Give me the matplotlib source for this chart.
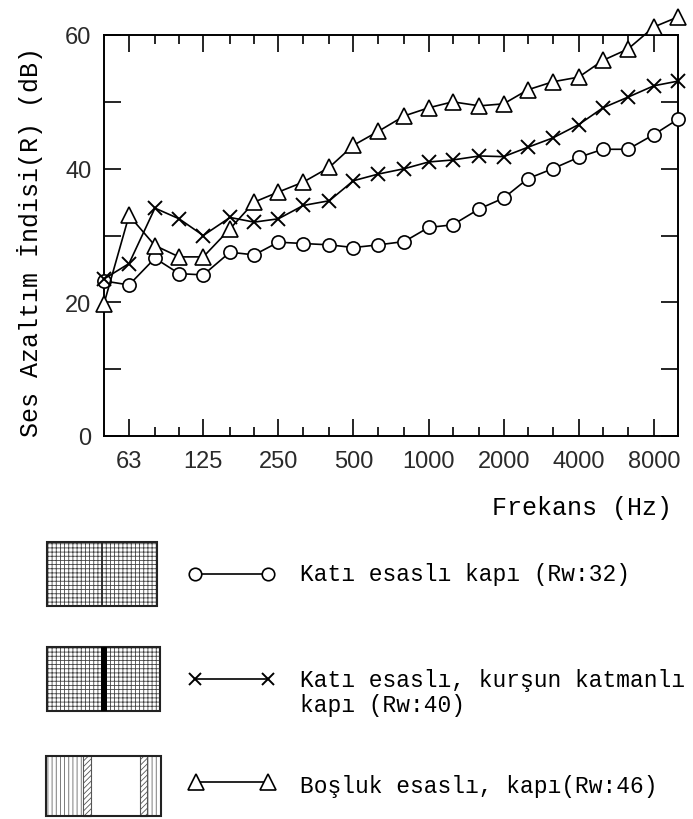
import matplotlib
matplotlib.use('Agg')
import matplotlib.pyplot as plt
from matplotlib.patches import Rectangle
from matplotlib.ticker import FixedLocator, NullFormatter

# 1/3 oktav bant merkez frekanslari (Hz)
freqs = [50, 63, 80, 100, 125, 160, 200, 250, 315, 400, 500, 630, 800,
         1000, 1250, 1600, 2000, 2500, 3150, 4000, 5000, 6300, 8000, 10000]
octave_ticks = [63, 125, 250, 500, 1000, 2000, 4000, 8000]
third_ticks = [f for f in freqs if f not in octave_ticks and f not in (50, 10000)]

# R (dB) degerleri
kati = [23.2, 22.6, 26.6, 24.3, 24.1, 27.5, 27.1, 29.0, 28.8, 28.6, 28.2, 28.6,
        29.1, 31.2, 31.6, 34.0, 35.6, 38.5, 40.0, 41.7, 42.9, 42.9, 45.1, 47.4]
kursun = [23.5, 25.8, 34.1, 32.5, 30.0, 32.7, 32.0, 32.5, 34.5, 35.2, 38.2, 39.2,
          40.0, 41.0, 41.3, 41.9, 41.8, 43.2, 44.6, 46.6, 49.1, 50.7, 52.4, 53.1]
bosluk = [19.8, 33.0, 28.5, 26.8, 26.8, 31.0, 35.0, 36.5, 38.0, 40.2, 43.5, 45.6,
          47.9, 49.1, 50.0, 49.4, 49.7, 51.8, 53.0, 53.7, 56.2, 57.9, 61.2, 62.7]

labels = ['Katı esaslı kapı (Rw:32)',
          'Katı esaslı, kurşun katmanlı\nkapı (Rw:40)',
          'Boşluk esaslı, kapı(Rw:46)']

W, H = 693, 820
mono = 'Liberation Mono'
plt.rcParams['hatch.linewidth'] = 0.6

fig = plt.figure(figsize=(W / 100, H / 100), dpi=100)
ax = fig.add_axes([104 / W, 1 - 437 / H, (678 - 104) / W, (437 - 36) / H])

ax.plot(freqs, kati, '-o', color='black', lw=1.2, ms=9.5, mfc='white',
        mec='black', mew=1.2, clip_on=False, zorder=3)
ax.plot(freqs, kursun, '-x', color='black', lw=1.2, ms=9.5, mew=1.4,
        clip_on=False, zorder=4)
ax.plot(freqs, bosluk, '-^', color='black', lw=1.2, ms=11, mfc='white',
        mec='black', mew=1.2, clip_on=False, zorder=5)

ax.set_xscale('log')
ax.set_xlim(50, 10000)
ax.set_ylim(0, 60)
ax.xaxis.set_major_locator(FixedLocator(octave_ticks))
ax.xaxis.set_minor_locator(FixedLocator(third_ticks))
ax.xaxis.set_minor_formatter(NullFormatter())
ax.set_xticklabels([str(f) for f in octave_ticks])
ax.set_yticks(range(0, 61, 10))
ax.set_yticklabels(['0', '', '20', '', '40', '', '60'])

ax.tick_params(which='major', direction='in', length=12, width=1.2,
               top=True, right=True, labelsize=17, colors='black')
ax.tick_params(which='minor', direction='in', length=6.5, width=1.2,
               top=True, right=True)
ax.tick_params(axis='y', pad=9)
ax.tick_params(axis='x', pad=10)
for lab in ax.get_xticklabels() + ax.get_yticklabels():
    lab.set_family('Liberation Sans')
    lab.set_color('#2a2a2a')
for sp in ax.spines.values():
    sp.set_linewidth(1.4)

fig.text(30 / W, 1 - 242 / H, 'Ses Azaltım İndisi(R) (dB)', rotation=90,
         ha='center', va='center', family=mono, fontsize=18)
fig.text(672 / W, 1 - 508 / H, 'Frekans (Hz)', ha='right', va='center',
         family=mono, fontsize=18)

# lejant: pixel koordinatlarinda bir katman
lax = fig.add_axes([0, 0, 1, 1])
lax.set_xlim(0, W)
lax.set_ylim(H, 0)
lax.axis('off')

# kutu 1: kati esasli
lax.add_patch(Rectangle((47, 543), 110, 64, facecolor='white', edgecolor='#444444',
                        hatch='++++', lw=0))
lax.add_patch(Rectangle((47, 543), 110, 64, fill=False, edgecolor='#222222', lw=1.5))
lax.plot([102, 102], [543, 607], color='#222222', lw=1.2)
# kutu 2: kursun katmanli
lax.add_patch(Rectangle((47, 648), 113, 64, facecolor='white', edgecolor='#444444',
                        hatch='++++', lw=0))
lax.add_patch(Rectangle((47, 648), 113, 64, fill=False, edgecolor='#222222', lw=1.5))
lax.add_patch(Rectangle((101, 648), 6, 64, facecolor='black', lw=0))
# kutu 3: bosluk esasli
lax.add_patch(Rectangle((46, 757), 37, 60, facecolor='white', edgecolor='#666666',
                        hatch='||||', lw=0))
lax.add_patch(Rectangle((147, 757), 14, 60, facecolor='white', edgecolor='#666666',
                        hatch='||||', lw=0))
lax.add_patch(Rectangle((83, 757), 8, 60, facecolor='white', edgecolor='#555555',
                        hatch='//////', lw=0.8))
lax.add_patch(Rectangle((140, 757), 7, 60, facecolor='white', edgecolor='#555555',
                        hatch='//////', lw=0.8))
lax.add_patch(Rectangle((46, 757), 115, 60, fill=False, edgecolor='#222222', lw=1.5))

# ornek cizgiler
lax.plot([195, 268], [575, 575], '-o', color='black', lw=1.2, ms=9, mfc='white', mew=1.2)
lax.plot([195, 268], [680, 680], '-x', color='black', lw=1.2, ms=9, mew=1.4)
lax.plot([196, 268], [783, 783], '-^', color='black', lw=1.2, ms=11, mfc='white', mew=1.2)

lax.text(300, 575, labels[0], va='center', ha='left', family=mono, fontsize=16.5)
lax.text(300, 693, labels[1], va='center', ha='left', family=mono, fontsize=16.5,
         linespacing=1.15)
lax.text(300, 787, labels[2], va='center', ha='left', family=mono, fontsize=16.5)

fig.savefig('out.png', dpi=100)
